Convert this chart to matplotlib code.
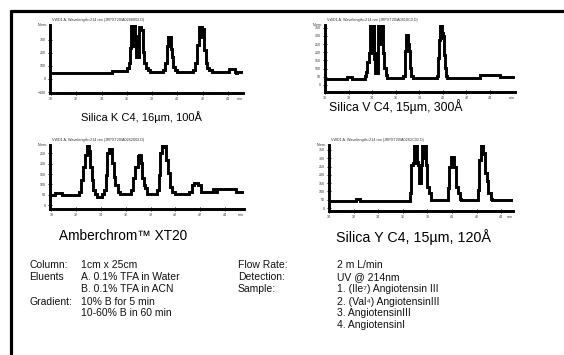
import matplotlib.pyplot as plt
from matplotlib.lines import Line2D
from matplotlib.ticker import MultipleLocator, FixedLocator

plt.rcParams['font.family'] = ['Liberation Sans', 'DejaVu Sans']

W, H = 564, 355

# ---- datos (tiempo en min, senal en mAU) ----
k_t = [29.92, 34.8, 36.05, 36.15, 36.25, 36.35, 36.42, 36.47, 36.51, 36.58, 36.62, 36.70, 36.82, 36.88,
       36.94, 37.00, 37.12, 37.25, 37.38, 37.50, 37.65, 37.85, 38.85, 39.02, 39.15, 39.26, 39.36,
       39.42, 39.50, 39.58, 39.68, 39.80, 39.98, 41.22, 41.42, 41.55, 41.68, 41.80, 41.86, 41.95,
       42.02, 42.12, 42.25, 42.38, 42.52, 42.72, 44.08, 44.55, 44.62, 44.70, 45.19]
k_v = [48, 60, 81, 120, 234, 430, 250, 430, 300, 430, 330, 165, 323, 165,
       323, 399, 374, 209, 120, 81, 65, 56, 70, 120, 250, 323, 270,
       323, 230, 165, 90, 65, 56, 70, 120, 260, 400, 320, 400, 340,
       380, 221, 120, 81, 65, 56, 74, 56, 48, 56, 56]

v_t = [30.0, 31.87, 32.30, 33.36, 33.45, 33.59, 33.72, 33.82, 33.90, 33.96, 34.04, 34.10, 34.18,
       34.24, 34.32, 34.38, 34.46, 34.52, 34.60, 34.66, 34.74, 34.80, 34.88, 34.98, 35.12, 35.26,
       36.64, 36.75, 36.85, 36.92, 36.98, 37.05, 37.12, 37.22, 37.32, 37.42, 39.50, 39.60, 39.66,
       39.74, 39.80, 39.86, 39.92, 40.00, 40.08, 40.18, 40.28, 40.36, 43.17, 44.87, 46.12]
v_v = [37, 47, 37, 53, 81, 142, 195, 380, 200, 380, 195, 380, 160,
       73, 195, 73, 195, 380, 250, 380, 280, 380, 195, 104, 59, 45,
       53, 205, 307, 260, 307, 250, 205, 104, 53, 45, 53, 165, 276,
       380, 280, 380, 317, 300, 185, 104, 53, 45, 61, 47, 47]

a_t = [29.88, 30.28, 30.82, 32.25, 32.40, 32.54, 32.68, 32.83, 32.90, 32.95, 33.00, 33.10, 33.24,
       33.38, 33.52, 33.70, 34.10, 34.26, 34.38, 34.50, 34.63, 34.70, 34.76, 34.88, 35.02, 35.17,
       35.37, 35.57, 36.10, 36.42, 36.62, 36.78, 36.95, 37.02, 37.10, 37.22, 37.33, 37.44, 37.58,
       37.72, 38.52, 38.67, 38.80, 38.95, 39.02, 39.10, 39.22, 39.40, 39.55, 39.72, 39.97, 41.14,
       41.35, 41.55, 41.85, 42.05, 43.02, 43.25, 43.35, 44.90, 45.55]
a_v = [48, 60, 48, 65, 121, 186, 243, 300, 250, 300, 260, 186, 121,
       73, 56, 40, 56, 73, 146, 251, 270, 255, 270, 202, 138, 97,
       65, 52, 56, 73, 129, 186, 243, 220, 243, 202, 130, 97, 81,
       56, 73, 146, 251, 296, 280, 296, 218, 154, 89, 65, 56, 65,
       97, 108, 97, 65, 77, 65, 77, 65, 65]

y_t = [30.0, 32.2, 32.55, 36.55, 36.68, 36.85, 36.95, 37.02, 37.08, 37.14, 37.20, 37.30, 37.36,
       37.42, 37.50, 37.56, 37.64, 37.70, 37.78, 37.84, 37.92, 38.00, 38.12, 38.27, 39.68, 39.78,
       39.95, 40.02, 40.08, 40.17, 40.32, 40.47, 40.62, 40.77, 42.12, 42.23, 42.35, 42.42, 42.48,
       42.56, 42.67, 42.82, 42.97, 43.17, 43.27, 44.97]
y_v = [42, 54, 42, 88, 259, 269, 400, 269, 400, 280, 259, 149, 259,
       149, 259, 400, 300, 400, 300, 400, 259, 128, 88, 48, 119, 249,
       309, 270, 309, 249, 128, 88, 54, 48, 108, 289, 400, 320, 400,
       330, 209, 160, 88, 54, 48, 48]

captions = ['Silica K C4, 16\u00b5m, 100\u00c5', 'Silica V C4, 15\u00b5m, 300\u00c5',
            'Amberchrom\u2122 XT20', 'Silica Y C4, 15\u00b5m, 120\u00c5']
headers = ['VWD1 A, Wavelength=214 nm (JRPXT20\\A0268002.D)',
           'VWD1 A, Wavelength=214 nm (JRPXT20\\A0610C0.D)',
           'VWD1 A, Wavelength=214 nm (JRPXT20\\A0262002.D)',
           'VWD1 A, Wavelength=214 nm (JRPXT20\\A0262C02.D)']
x_ticks = [30, 32, 34, 36, 38, 40, 42, 44]

fig = plt.figure(figsize=(W / 100, H / 100), dpi=100)


def ax_px(left, top, right, bottom):
    return fig.add_axes([left / W, 1 - bottom / H, (right - left) / W, (bottom - top) / H])


def ftext(x, y, s, **kw):
    fig.text(x / W, 1 - y / H, s, **kw)


# (caja en px, xlim, ylim, yticks, datos)
paneles = [
    ((50, 25, 243, 93), (29.92, 45.19), (-107, 412), [-100, 0, 100, 200, 300], k_t, k_v),
    ((325, 25, 515, 92), (29.98, 46.12), (-43, 366), [0, 50, 100, 150, 200, 250, 300, 350], v_t, v_v),
    ((50, 145, 244, 209), (29.88, 45.55), (-19, 291), [0, 50, 100, 150, 200, 250], a_t, a_v),
    ((329, 145, 513, 211), (29.99, 44.97), (-18, 380), [0, 50, 100, 150, 200, 250, 300, 350], y_t, y_v),
]

for i, (caja, xl, yl, yt, tt, vv) in enumerate(paneles):
    ax = ax_px(*caja)
    ax.plot(tt, vv, color='black', lw=2.1, drawstyle='steps-post', solid_joinstyle='miter')
    ax.set_xlim(xl)
    ax.set_ylim(yl)
    for s in ['top', 'right']:
        ax.spines[s].set_visible(False)
    for s in ['left', 'bottom']:
        ax.spines[s].set_linewidth(2.1)
    ax.xaxis.set_major_locator(FixedLocator(x_ticks))
    ax.xaxis.set_minor_locator(MultipleLocator(0.2))
    ax.yaxis.set_major_locator(FixedLocator(yt))
    ax.yaxis.set_minor_locator(MultipleLocator(10))
    ax.tick_params(which='both', direction='inout', width=0.6, labelsize=2.6,
                   colors='black', labelcolor='#333333', pad=1.5)
    ax.tick_params(which='major', length=2.5)
    ax.tick_params(which='minor', length=1.6)
    ax.text(0.985, -0.06, 'min', transform=ax.transAxes, fontsize=2.6, color='#333333',
            ha='center', va='top')
    ax.text(-0.012, 1.0, 'Norm.', transform=ax.transAxes, fontsize=2.6, color='#333333',
            ha='right', va='center')
    ax.text(0.01, 1.05, headers[i], transform=ax.transAxes, fontsize=2.7, color='#333333',
            ha='left', va='bottom')

# pies de cada cromatograma
ftext(141.5, 117, captions[0], fontsize=8.0, ha='center', va='center')
ftext(396, 107, captions[1], fontsize=8.8, ha='center', va='center')
ftext(123.5, 236, captions[2], fontsize=9.8, ha='center', va='center')
ftext(413.5, 237, captions[3], fontsize=10.3, ha='center', va='center')

# condiciones
filas = [265, 276.7, 289, 301.7, 313.3, 325]
col1 = ['Column:', 'Eluents', '', 'Gradient:', '']
col2 = ['1cm x 25cm', 'A. 0.1% TFA in Water', 'B. 0.1% TFA in ACN', '10% B for 5 min', '10-60% B in 60 min']
col3 = ['Flow Rate:', 'Detection:', 'Sample:']
col4 = ['2 m L/min', 'UV @ 214nm', '1. (Ile\u2077) Angiotensin III', '2. (Val\u2074) AngiotensinIII',
        '3. AngiotensinIII', '4. AngiotensinI']
for cx, col in [(29, col1), (81, col2), (238, col3), (337, col4)]:
    for y, s in zip(filas, col):
        ftext(cx, y, s, fontsize=7.5, ha='left', va='center', color='#111111')

# marco superior e izquierdo
fig.add_artist(Line2D([9.5 / W, 1], [1 - 10.5 / H, 1 - 10.5 / H], transform=fig.transFigure,
                      color='black', lw=2.3, solid_capstyle='butt'))
fig.add_artist(Line2D([10.5 / W, 10.5 / W], [0, 1 - 9.5 / H], transform=fig.transFigure,
                      color='black', lw=2.3, solid_capstyle='butt'))

fig.savefig('out.png', dpi=100, facecolor='white')
